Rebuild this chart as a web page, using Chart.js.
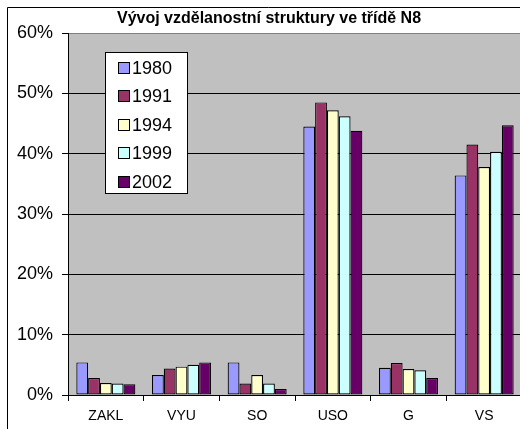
<!DOCTYPE html>
<html>
<head>
<meta charset="utf-8">
<script src="https://cdn.jsdelivr.net/npm/chart.js@4"></script>
<style>
html,body{margin:0;padding:0;background:#fff;overflow:hidden;}
#wrap{width:520px;height:429px;overflow:hidden;position:relative;}
canvas{display:block;}
</style>
</head>
<body>
<div id="wrap"><canvas id="c" width="530" height="429"></canvas></div>
<script>
const title = "Vývoj vzdělanostní struktury ve třídě N8";
const categories = ["ZAKL", "VYU", "SO", "USO", "G", "VS"];
const seriesNames = ["1980", "1991", "1994", "1999", "2002"];
const v1980 = [5.4, 3.3, 5.4, 44.5, 4.5, 36.4];
const v1991 = [2.8, 4.4, 1.9, 48.5, 5.3, 41.5];
const v1994 = [2.0, 4.7, 3.3, 47.2, 4.3, 37.8];
const v1999 = [1.9, 5.0, 1.9, 46.2, 4.1, 40.3];
const v2002 = [1.8, 5.4, 1.0, 43.8, 2.8, 44.7];
const yTicks = [0, 10, 20, 30, 40, 50, 60];
const colors = ["#9999FF", "#993366", "#FFFFCC", "#CCFFFF", "#660066"];

const seriesValues = [v1980, v1991, v1994, v1999, v2002];
const FONT = "'Liberation Sans', Arial, sans-serif";

const decor = {
  id: 'decor',
  beforeDraw(chart) {
    const ctx = chart.ctx, a = chart.chartArea;
    ctx.save();
    ctx.fillStyle = '#fff';
    ctx.fillRect(0, 0, chart.width, chart.height);
    ctx.fillStyle = '#C0C0C0';
    ctx.fillRect(a.left, a.top, a.right - a.left, a.bottom - a.top);
    ctx.restore();
  },
  afterDraw(chart) {
    const ctx = chart.ctx;
    ctx.save();
    ctx.strokeStyle = '#000';
    ctx.lineWidth = 1;
    ctx.beginPath();
    ctx.moveTo(7.5, chart.height);
    ctx.lineTo(7.5, 7.5);
    ctx.lineTo(chart.width, 7.5);
    ctx.stroke();
    ctx.fillStyle = '#000';
    ctx.font = "bold 16px " + FONT;
    ctx.textAlign = 'center';
    ctx.textBaseline = 'alphabetic';
    ctx.fillText(title, 269, 22.5);
    ctx.fillStyle = '#fff';
    ctx.fillRect(105.5, 52.5, 82, 141);
    ctx.strokeRect(105.5, 52.5, 82, 141);
    ctx.font = "18px " + FONT;
    ctx.textAlign = 'left';
    chart.data.datasets.forEach((ds, i) => {
      const cy = 67.5 + i * 28.4;
      const sy = Math.round(cy - 5.5) + 0.5;
      ctx.fillStyle = ds.backgroundColor;
      ctx.fillRect(118.5, sy, 11, 11);
      ctx.strokeStyle = '#000';
      ctx.strokeRect(118.5, sy, 11, 11);
      ctx.fillStyle = '#000';
      ctx.fillText(ds.label, 132, cy + 6.5);
    });
    ctx.restore();
  }
};

new Chart(document.getElementById('c'), {
  type: 'bar',
  data: {
    labels: categories,
    datasets: seriesNames.map((n, i) => ({
      label: n,
      data: seriesValues[i],
      backgroundColor: colors[i],
      borderColor: '#000',
      borderWidth: 1.2,
      borderSkipped: false,
      categoryPercentage: 0.78,
      barPercentage: 1.0
    }))
  },
  options: {
    responsive: false,
    animation: false,
    devicePixelRatio: 1,
    layout: { padding: { left: 0, top: 33, right: 8, bottom: 0 } },
    plugins: { legend: { display: false }, title: { display: false }, tooltip: { enabled: false } },
    scales: {
      x: {
        grid: { offset: true, drawOnChartArea: false, drawTicks: true, tickLength: 6, color: '#000' },
        border: { color: '#000', width: 1 },
        ticks: { color: '#000', font: { family: FONT, size: 14 }, padding: 7, maxRotation: 0 },
        afterFit(s) { s.height = 34; }
      },
      y: {
        min: 0, max: 60,
        afterBuildTicks(s) { s.ticks = yTicks.map(v => ({ value: v })); },
        ticks: { color: '#000', font: { family: FONT, size: 18 }, padding: 9, callback: v => v + '%' },
        grid: {
          color: c => (c.tick && c.tick.value === 60) ? '#808080' : '#000',
          tickColor: '#000',
          tickLength: 6
        },
        border: { color: '#000', width: 1 },
        afterFit(s) { s.width = 68; }
      }
    }
  },
  plugins: [decor]
});
</script>
</body>
</html>
